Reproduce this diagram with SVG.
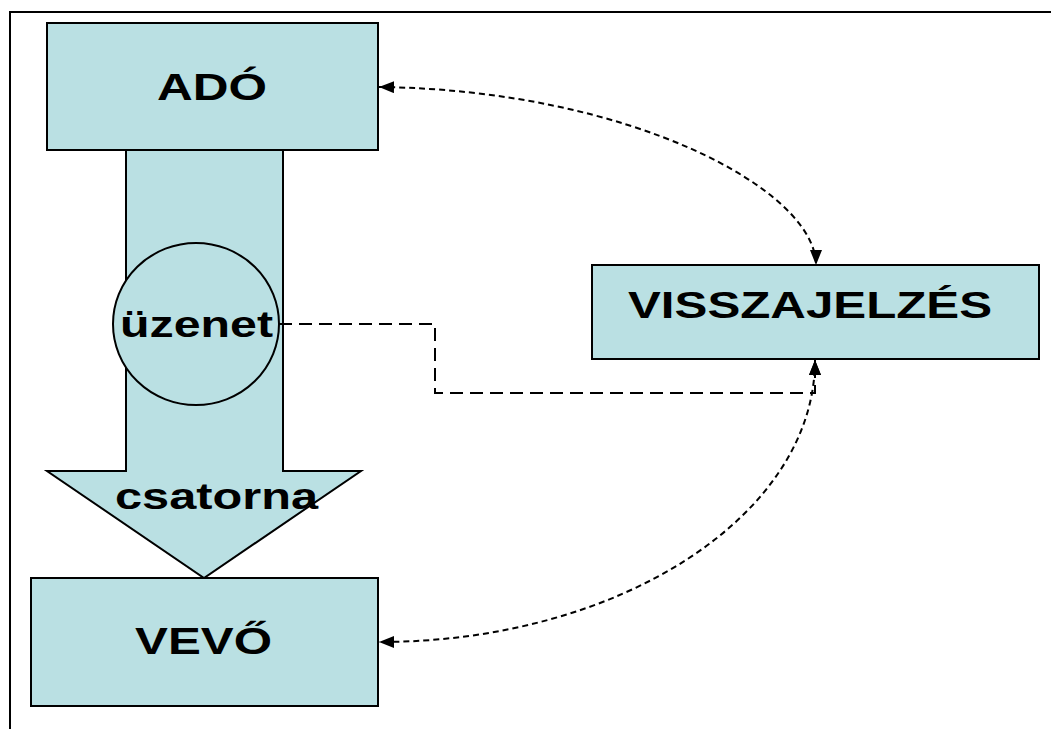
<svg xmlns="http://www.w3.org/2000/svg" width="1051" height="729" viewBox="0 0 1051 729">
  <defs>
    <marker id="tip" viewBox="0 0 15 12" refX="15" refY="6" markerWidth="15" markerHeight="12" markerUnits="userSpaceOnUse" orient="auto-start-reverse">
      <path d="M0,0 L15,6 L0,12 Z" fill="#000"/>
    </marker>
  </defs>
  <style>
    .box { fill: #bae0e3; stroke: #000; stroke-width: 2; }
    .lbl { font-family: "Liberation Sans", Arial, sans-serif; font-weight: bold; font-size: 36px; fill: #000; }
    .curve { fill: none; stroke: #000; stroke-width: 2; stroke-dasharray: 6 4; }
    .elbow { fill: none; stroke: #000; stroke-width: 2; stroke-dasharray: 13 7; }
  </style>
  <rect width="1051" height="729" fill="#fff"/>
  <!-- frame -->
  <path d="M10,729 L10,12 L1051,12" fill="none" stroke="#000" stroke-width="2"/>

  <g id="csatorna">
    <path class="box" d="M126,150 L283,150 L283,471 L361,471 L204,578 L47,471 L126,471 Z"/>
  </g>
  <g id="ado">
    <rect class="box" x="47" y="23" width="331" height="127"/>
    <text class="lbl" x="157" y="100" textLength="110" lengthAdjust="spacingAndGlyphs">ADÓ</text>
  </g>
  <g id="uzenet">
    <ellipse class="box" cx="196" cy="324" rx="83" ry="81"/>
    <text class="lbl" x="120" y="337" textLength="153" lengthAdjust="spacingAndGlyphs">üzenet</text>
  </g>
  <g id="csatorna-label">
    <text class="lbl" x="115" y="509" textLength="203" lengthAdjust="spacingAndGlyphs">csatorna</text>
  </g>
  <g id="vevo">
    <rect class="box" x="31" y="578" width="347" height="128"/>
    <text class="lbl" x="135" y="654" textLength="137" lengthAdjust="spacingAndGlyphs">VEVŐ</text>
  </g>
  <g id="visszajelzes">
    <rect class="box" x="592" y="265" width="447" height="94"/>
    <text class="lbl" x="628" y="318" textLength="364" lengthAdjust="spacingAndGlyphs">VISSZAJELZÉS</text>
  </g>

  <g id="connectors">
    <path class="curve" d="M379,87 C630,90 816,190 816,265" marker-start="url(#tip)" marker-end="url(#tip)"/>
    <path class="curve" d="M815,360 C815,515 620,642 379,642" marker-start="url(#tip)" marker-end="url(#tip)"/>
    <path class="elbow" d="M279,324 L435,324 L435,393 L815,393 L815,360" marker-end="url(#tip)"/>
  </g>
</svg>
